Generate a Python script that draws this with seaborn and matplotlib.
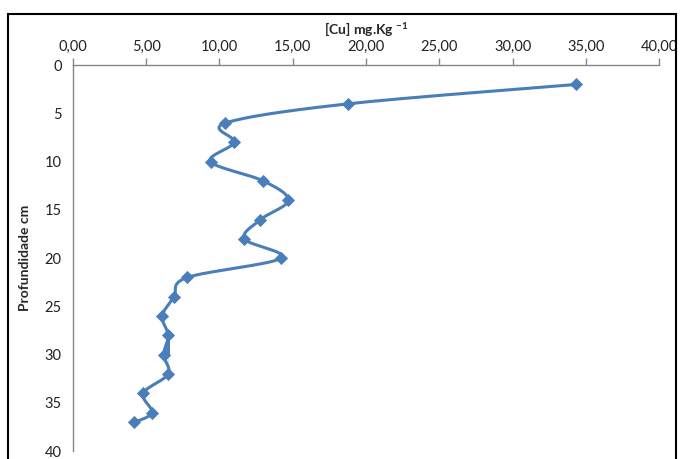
import numpy as np
import seaborn as sns
import matplotlib.pyplot as plt
from matplotlib.patches import Rectangle
from matplotlib.ticker import FuncFormatter

# Dados: concentração de Cu por profundidade
cu = [34.3, 18.8, 10.4, 11.0, 9.4, 13.0, 14.7, 12.8, 11.7, 14.2,
      7.8, 6.9, 6.1, 6.5, 6.2, 6.5, 4.8, 5.4, 4.2]
prof = [2, 4, 6, 8, 10, 12, 14, 16, 18, 20,
        22, 24, 26, 28, 30, 32, 34, 36, 37]
x_ticks = [0, 5, 10, 15, 20, 25, 30, 35, 40]
y_ticks = [0, 5, 10, 15, 20, 25, 30, 35, 40]

blue = '#4a7ebb'
gray = '#868686'


# Curva suavizada (estilo Excel, Catmull-Rom -> Bezier)
def suavizar(xs, ys, n=30):
    p = np.column_stack([xs, ys]).astype(float)
    p = np.vstack([p[0], p, p[-1]])
    out = []
    t = np.linspace(0, 1, n)[:, None]
    for i in range(1, len(p) - 2):
        p0, p1, p2, p3 = p[i - 1], p[i], p[i + 1], p[i + 2]
        c1 = p1 + (p2 - p0) / 6
        c2 = p2 - (p3 - p1) / 6
        seg = ((1 - t) ** 3) * p1 + 3 * ((1 - t) ** 2) * t * c1 \
            + 3 * (1 - t) * t ** 2 * c2 + t ** 3 * p2
        out.append(seg if i == 1 else seg[1:])
    out = np.vstack(out)
    return out[:, 0], out[:, 1]


sns.set_style('white')
plt.rcParams['font.family'] = ['Lato', 'DejaVu Sans']
plt.rcParams['mathtext.fontset'] = 'custom'
plt.rcParams['mathtext.rm'] = 'Lato'
plt.rcParams['mathtext.bf'] = 'Lato:bold'

fig = plt.figure(figsize=(6.81, 4.59), dpi=100)
ax = fig.add_axes([0.107, 0.017, 0.861, 0.841])

sx, sy = suavizar(cu, prof)
sns.lineplot(x=sx, y=sy, sort=False, color=blue, linewidth=2.2, ax=ax)
sns.scatterplot(x=cu, y=prof, marker='D', s=45, color=blue,
                edgecolor=blue, linewidth=0, ax=ax, zorder=3)

ax.set_xlim(0, 40)
ax.set_ylim(40, 0)
ax.set_xticks(x_ticks)
ax.set_yticks(y_ticks)
ax.xaxis.set_major_formatter(FuncFormatter(lambda v, pos: f'{v:.2f}'.replace('.', ',')))
ax.xaxis.tick_top()
ax.xaxis.set_label_position('top')
ax.tick_params(axis='both', direction='out', length=5, width=1, color=gray,
               labelsize=10.5, labelcolor='#222222', pad=3)

for s in ['right', 'bottom']:
    ax.spines[s].set_visible(False)
for s in ['left', 'top']:
    ax.spines[s].set_color(gray)
    ax.spines[s].set_linewidth(1)

ax.set_xlabel(r'[Cu] mg.Kg $^{\mathbf{-1}}$', fontsize=10, fontweight='bold',
              labelpad=4)
ax.set_ylabel('Profundidade cm', fontsize=10, fontweight='bold', labelpad=10)

# Moldura do gráfico
fig.add_artist(Rectangle((8 / 681, -0.05), 668 / 681, 1.05 - 14 / 459,
                         transform=fig.transFigure, fill=False,
                         edgecolor='black', linewidth=1.5, clip_on=False))

fig.savefig('out.png', dpi=100)
plt.close()
